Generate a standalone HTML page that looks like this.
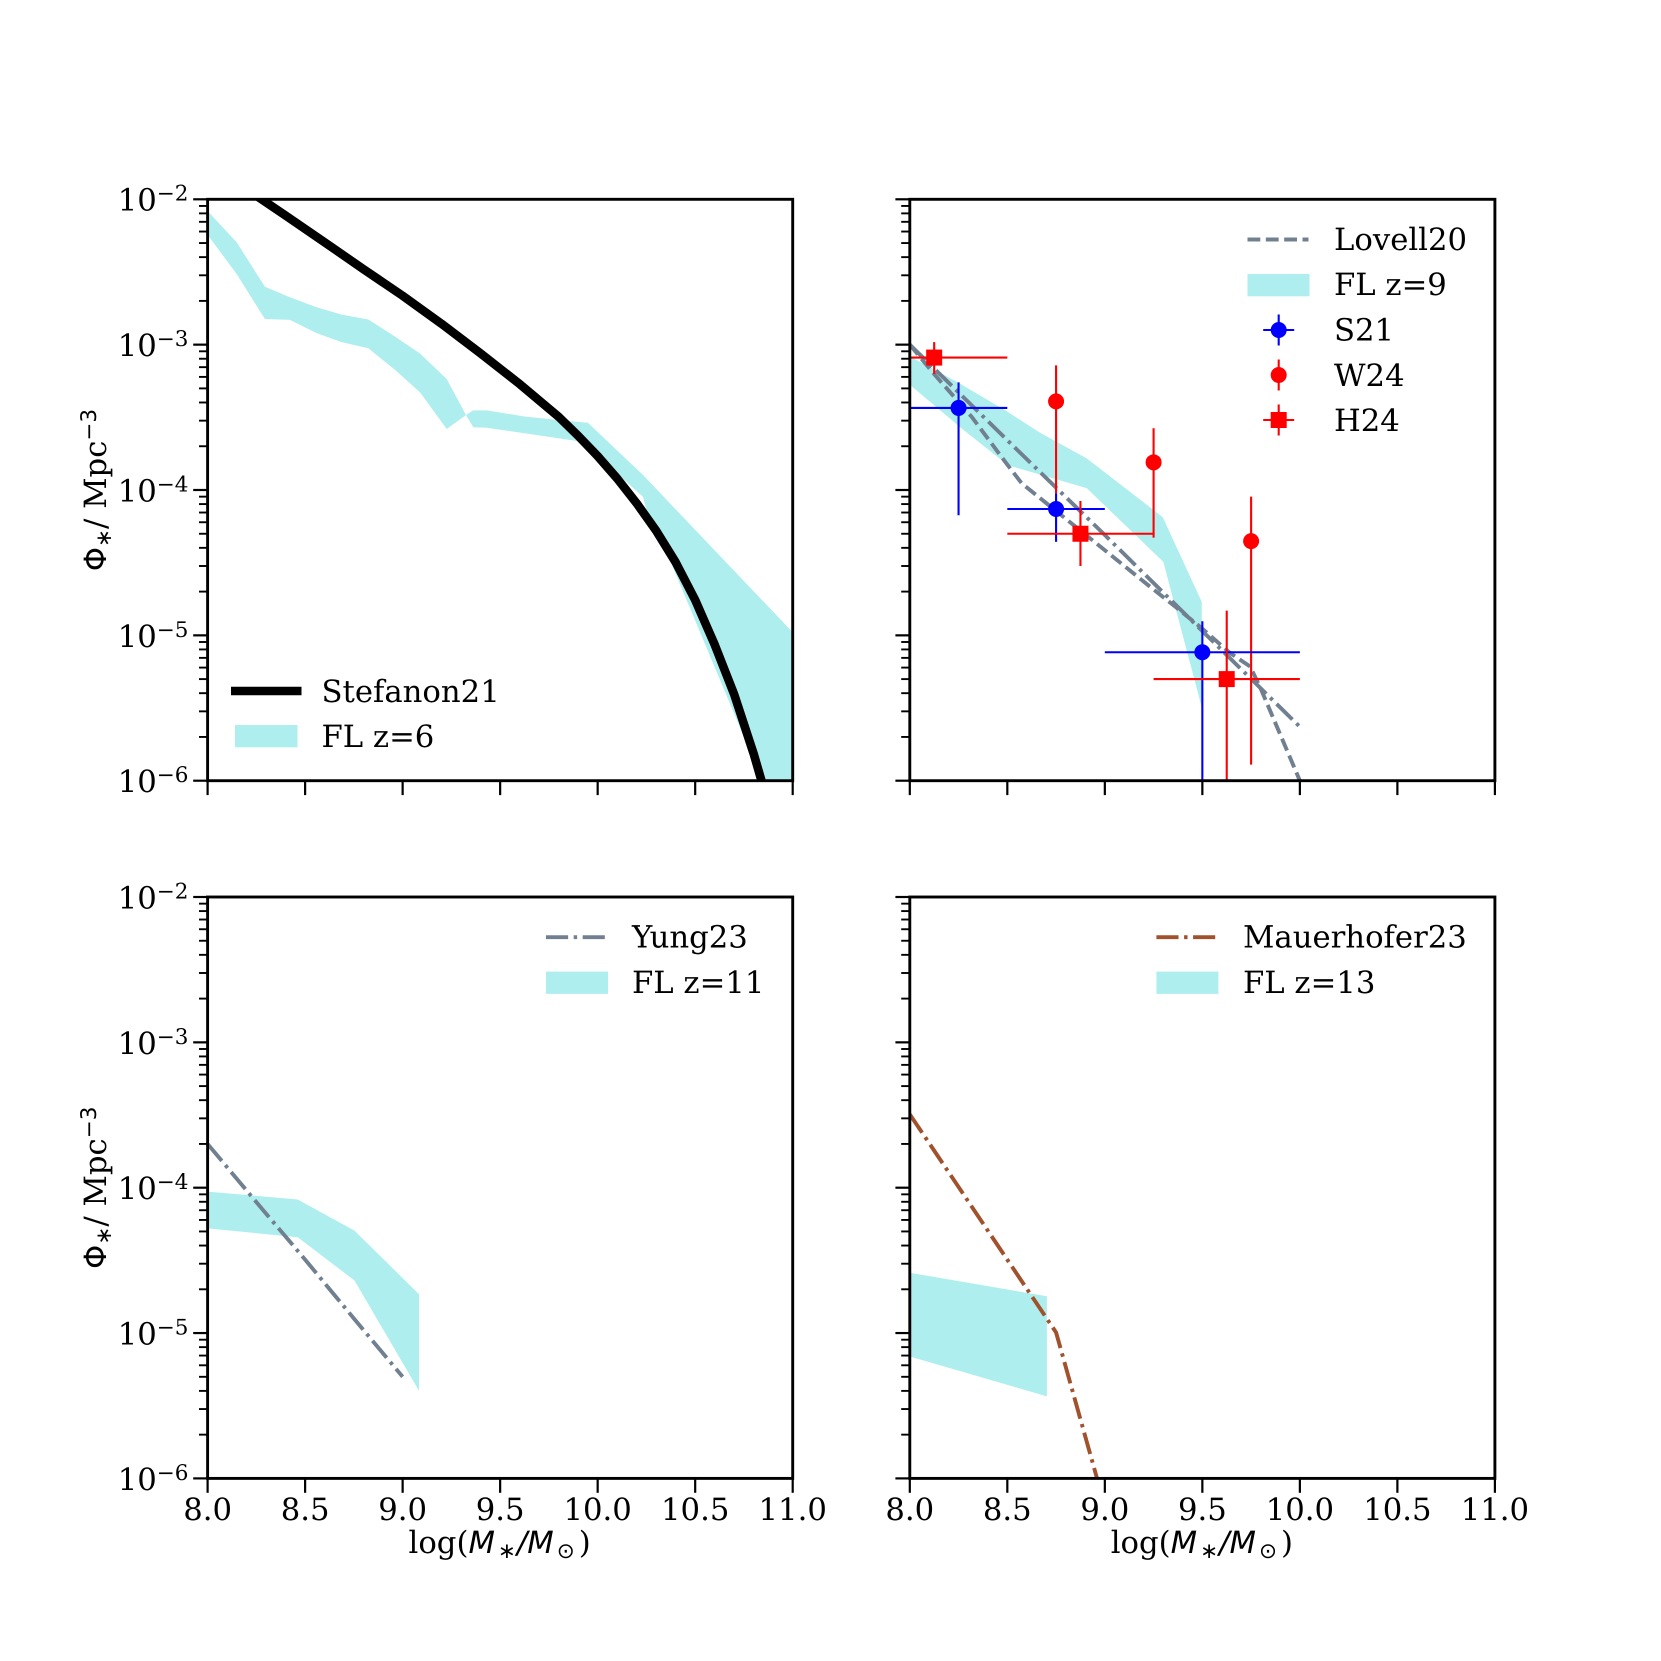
<!DOCTYPE html>
<html lang="en">
<head>
<meta charset="utf-8">
<title>Galaxy stellar mass functions</title>
<style>
html,body{margin:0;padding:0;background:#fff;}
svg{display:block;}
text{font-family:"DejaVu Serif","Liberation Serif",serif;fill:#000;text-rendering:geometricPrecision;}
.ms{font-family:"DejaVu Sans","Liberation Sans",sans-serif;}
</style>
</head>
<body>
<svg id="fig" xmlns="http://www.w3.org/2000/svg" width="1661" height="1661" viewBox="0 0 1661 1661"></svg>
<script>
// ---------- tick data ----------
const xTickValues = [8.0, 8.5, 9.0, 9.5, 10.0, 10.5, 11.0];
const xTickLabels = ['8.0', '8.5', '9.0', '9.5', '10.0', '10.5', '11.0'];
const yTickExponents = [-2, -3, -4, -5, -6];
const yMinorMultipliers = [2, 3, 4, 5, 6, 7, 8, 9];

// ---------- panel 1 (z=6) ----------
const stefanonX = [8.2, 8.4, 8.6, 8.8, 9.0, 9.2, 9.4, 9.6, 9.8, 9.9, 10.0, 10.1, 10.2, 10.3, 10.4, 10.5, 10.6, 10.7, 10.8, 10.84, 10.88];
const stefanonY = [1.175e-2, 7.73e-3, 5.06e-3, 3.3e-3, 2.17e-3, 1.39e-3, 8.7e-4, 5.36e-4, 3.19e-4, 2.36e-4, 1.71e-4, 1.2e-4, 8.1e-5, 5.24e-5, 3.18e-5, 1.75e-5, 8.63e-6, 3.92e-6, 1.53e-6, 1e-6, 6.3e-7];
const flZ6UpperX = [8.0, 8.149, 8.294, 8.422, 8.559, 8.687, 8.824, 8.961, 9.089, 9.226, 9.325, 9.362, 9.431, 9.63, 9.83, 9.95, 10.232, 11.0];
const flZ6UpperY = [8.3e-3, 5.06e-3, 2.5e-3, 2.12e-3, 1.81e-3, 1.61e-3, 1.49e-3, 1.135e-3, 8.7e-4, 5.8e-4, 3.28e-4, 3.53e-4, 3.53e-4, 3.2e-4, 3.0e-4, 2.9e-4, 1.27e-4, 1.05e-5];
const flZ6LowerX = [8.0, 8.149, 8.294, 8.422, 8.559, 8.687, 8.824, 8.961, 9.089, 9.226, 9.325, 9.362, 9.431, 9.63, 9.916, 10.232, 10.25, 10.37, 10.78, 10.83, 11.0];
const flZ6LowerY = [5.7e-3, 3.06e-3, 1.5e-3, 1.48e-3, 1.2e-3, 1.04e-3, 9.44e-4, 6.7e-4, 4.7e-4, 2.63e-4, 3.28e-4, 2.7e-4, 2.68e-4, 2.45e-4, 2.15e-4, 9e-5, 7.3e-5, 3.3e-5, 1.6e-6, 1e-6, 1e-6];

// ---------- panel 2 (z=9) ----------
const flZ9UpperX = [8.0, 8.246, 8.494, 8.667, 8.907, 9.297, 9.497];
const flZ9UpperY = [8.3e-4, 5.5e-4, 3.5e-4, 2.48e-4, 1.65e-4, 6.5e-5, 1.7e-5];
const flZ9LowerX = [8.0, 8.278, 8.504, 8.656, 8.907, 9.3, 9.357, 9.497];
const flZ9LowerY = [5.3e-4, 2.57e-4, 1.48e-4, 1.29e-4, 1.03e-4, 3.2e-5, 1.64e-5, 3.2e-6];
const lovellX = [8.0, 8.12, 8.317, 8.488, 8.574, 8.693, 8.881, 9.103, 9.232, 9.36, 9.497, 9.64, 9.745, 9.795, 10.0];
const lovellY = [1e-3, 6.38e-4, 3.19e-4, 1.57e-4, 1.11e-4, 8.26e-5, 5.18e-5, 2.98e-5, 2.16e-5, 1.58e-5, 1.12e-5, 7.6e-6, 6.1e-6, 4.44e-6, 1e-6];
const dashDotZ9X = [8.0, 8.5, 9.0, 9.5, 10.0];
const dashDotZ9Y = [1e-3, 2.2e-4, 4.9e-5, 1.07e-5, 2.35e-6];

const s21X = [8.25, 8.75, 9.5];
const s21Y = [3.67e-4, 7.4e-5, 7.65e-6];
const s21YLow = [6.7e-5, 4.4e-5, 1e-7];
const s21YHigh = [5.5e-4, 9.5e-5, 1.25e-5];
const s21XLow = [8.0, 8.5, 9.0];
const s21XHigh = [8.5, 9.0, 10.0];

const w24X = [8.75, 9.25, 9.75];
const w24Y = [4.07e-4, 1.55e-4, 4.45e-5];
const w24YLow = [9.5e-5, 4.7e-5, 1.29e-6];
const w24YHigh = [7.2e-4, 2.66e-4, 9e-5];

const h24X = [8.125, 8.875, 9.625];
const h24Y = [8.15e-4, 5.0e-5, 5.0e-6];
const h24YLow = [6.3e-4, 3.0e-5, 1e-7];
const h24YHigh = [1.04e-3, 8.4e-5, 1.48e-5];
const h24XLow = [8.0, 8.5, 9.25];
const h24XHigh = [8.5, 9.25, 10.0];

// ---------- panel 3 (z=11) ----------
const yungX = [8.0, 8.25, 8.5, 8.75, 9.0];
const yungY = [2.0e-4, 7.95e-5, 3.2e-5, 1.26e-5, 5.0e-6];
const flZ11UpperX = [8.0, 8.462, 8.753, 9.084];
const flZ11UpperY = [9.4e-5, 8.3e-5, 5.07e-5, 1.85e-5];
const flZ11LowerX = [8.0, 8.462, 8.753, 9.084];
const flZ11LowerY = [5.25e-5, 4.56e-5, 2.3e-5, 4.0e-6];

// ---------- panel 4 (z=13) ----------
const mauerhoferX = [8.0, 8.75, 8.96, 9.0];
const mauerhoferY = [3.2e-4, 1.01e-5, 1e-6, 6.5e-7];
const flZ13UpperX = [8.0, 8.703];
const flZ13UpperY = [2.6e-5, 1.79e-5];
const flZ13LowerX = [8.0, 8.703];
const flZ13LowerY = [6.9e-6, 3.67e-6];

// ---------- layout and helpers ----------
const SVGNS = 'http://www.w3.org/2000/svg';
const fig = document.getElementById('fig');
const BAND = '#afeeee';
const SLATE = '#708090';
const SIENNA = '#a0522d';
const FS = 30.7;
const FS_SMALL = 21.5;
const LW = 3.9;
const DASH_UNIT = 3.46;
const DASHED = (DASH_UNIT * 3.7) + ' ' + (DASH_UNIT * 1.6);
const DASHDOT = (DASH_UNIT * 6.4) + ' ' + (DASH_UNIT * 1.6) + ' ' + DASH_UNIT + ' ' + (DASH_UNIT * 1.6);

function mk(tag, attrs, parent) {
  const node = document.createElementNS(SVGNS, tag);
  for (const k in attrs) node.setAttribute(k, attrs[k]);
  parent.appendChild(node);
  return node;
}
function makeAxes(left, top, w, h) {
  return {
    left: left, top: top, w: w, h: h,
    X: function (v) { return left + (v - 8) / 3 * w; },
    Y: function (v) { return top + (-2 - Math.log10(v)) / 4 * h; }
  };
}
function pathD(ax, xs, ys) {
  return xs.map(function (x, i) {
    return (i ? 'L' : 'M') + ax.X(x).toFixed(2) + ' ' + ax.Y(ys[i]).toFixed(2);
  }).join(' ');
}
function drawBand(g, ax, ux, uy, lx, ly, name) {
  const rx = lx.slice().reverse();
  const ry = ly.slice().reverse();
  const d = pathD(ax, ux.concat(rx), uy.concat(ry)) + ' Z';
  const el = mk('path', { d: d, fill: BAND, stroke: 'none' }, g);
  
  
}
function drawLine(g, ax, xs, ys, color, width, dash, name) {
  const el = mk('path', { d: pathD(ax, xs, ys), fill: 'none', stroke: color, 'stroke-width': width, 'stroke-linejoin': 'round' }, g);
  if (dash) el.setAttribute('stroke-dasharray', dash);
  
  
}
function drawPoints(g, ax, xs, ys, yLow, yHigh, xLow, xHigh, color, shape, name) {
  xs.forEach(function (x, i) {
    const cx = ax.X(x), cy = ax.Y(ys[i]);
    const el = mk('g', {}, g);
    
    
    mk('line', { x1: cx, x2: cx, y1: ax.Y(yLow[i]), y2: ax.Y(yHigh[i]), stroke: color, 'stroke-width': 2.1 }, el);
    if (xLow) mk('line', { x1: ax.X(xLow[i]), x2: ax.X(xHigh[i]), y1: cy, y2: cy, stroke: color, 'stroke-width': 2.1 }, el);
    if (shape === 'circle') mk('circle', { cx: cx, cy: cy, r: 8, fill: color }, el);
    else mk('rect', { x: cx - 8, y: cy - 8, width: 16, height: 16, fill: color }, el);
  });
}
function drawFrame(svg, ax, showY, showX, name) {
  const g = mk('g', {}, svg);
  
  
  const frame = mk('rect', { x: ax.left, y: ax.top, width: ax.w, height: ax.h, fill: 'none', stroke: '#000', 'stroke-width': 2.9 }, g);
  
  
  const bottom = ax.top + ax.h;
  xTickValues.forEach(function (v, i) {
    const x = ax.X(v);
    const t = mk('line', { x1: x, x2: x, y1: bottom, y2: bottom + 14.4, stroke: '#000', 'stroke-width': 2.2 }, g);
    
    
    if (showX) {
      const lab = mk('text', { x: x, y: bottom + 41.7, 'font-size': FS, 'text-anchor': 'middle' }, g);
      lab.textContent = xTickLabels[i];
      
      
    }
  });
  yTickExponents.forEach(function (e) {
    const y = ax.Y(Math.pow(10, e));
    const t = mk('line', { x1: ax.left - 14.4, x2: ax.left, y1: y, y2: y, stroke: '#000', 'stroke-width': 2.2 }, g);
    
    
    if (e > -6) {
      yMinorMultipliers.forEach(function (m) {
        const ym = ax.Y(m * Math.pow(10, e - 1));
        const mt = mk('line', { x1: ax.left - 8.6, x2: ax.left, y1: ym, y2: ym, stroke: '#000', 'stroke-width': 1.9 }, g);
        
        
      });
    }
    if (showY) {
      const lab = mk('text', { x: 188.5, y: y + 11.4, 'font-size': FS, 'text-anchor': 'end' }, g);
      
      
      lab.appendChild(document.createTextNode('10'));
      const sup = mk('tspan', { 'font-size': FS_SMALL, dy: -10 }, lab);
      sup.textContent = '\u2212' + Math.abs(e);
    }
  });
  if (showY) {
    const cy = ax.top + ax.h / 2;
    const yl = mk('text', { x: 106, y: cy, 'font-size': FS, 'text-anchor': 'middle', transform: 'rotate(-90 106 ' + cy + ')' }, g);
    
    
    mk('tspan', { class: 'ms' }, yl).textContent = '\u03A6';
    mk('tspan', { class: 'ms', 'font-size': FS_SMALL, dy: 5 }, yl).textContent = '\u2217';
    mk('tspan', { dy: -5 }, yl).textContent = '/ Mpc';
    mk('tspan', { class: 'ms', 'font-size': FS_SMALL, dy: -10 }, yl).textContent = '\u22123';
  }
  if (showX) {
    const xl = mk('text', { x: ax.left + ax.w / 2 - 0.5, y: bottom + 74.7, 'font-size': FS, 'text-anchor': 'middle' }, g);
    
    
    mk('tspan', {}, xl).textContent = 'log(';
    mk('tspan', { class: 'ms', 'font-style': 'italic' }, xl).textContent = 'M';
    mk('tspan', { class: 'ms', 'font-size': FS_SMALL, dy: 5, dx: 3 }, xl).textContent = '\u2217';
    mk('tspan', { class: 'ms', 'font-style': 'italic', dy: -5, dx: 1 }, xl).textContent = '/M';
    mk('tspan', { class: 'ms', 'font-size': FS_SMALL, dy: 5, dx: 3 }, xl).textContent = '\u2299';
    mk('tspan', { dy: -5, dx: 4 }, xl).textContent = ')';
  }
}
function legendText(g, x, y, str, name) {
  const t = mk('text', { x: x, y: y, 'font-size': FS }, g);
  t.textContent = str;
  
  
}
function legendPatch(g, x, y, w, name) {
  const r = mk('rect', { x: x, y: y, width: w, height: 22.3, fill: BAND }, g);
  
  
}
function legendStroke(g, x1, x2, y, color, width, dash, name) {
  const l = mk('line', { x1: x1, x2: x2, y1: y, y2: y, stroke: color, 'stroke-width': width }, g);
  if (dash) l.setAttribute('stroke-dasharray', dash);
  
  
}
function legendMarker(g, cx, cy, color, shape, horizontal, name) {
  const m = mk('g', {}, g);
  
  
  mk('line', { x1: cx, x2: cx, y1: cy - 15.5, y2: cy + 15.5, stroke: color, 'stroke-width': 2.1 }, m);
  if (horizontal) mk('line', { x1: cx - 15.5, x2: cx + 15.5, y1: cy, y2: cy, stroke: color, 'stroke-width': 2.1 }, m);
  if (shape === 'circle') mk('circle', { cx: cx, cy: cy, r: 8, fill: color }, m);
  else mk('rect', { x: cx - 8, y: cy - 8, width: 16, height: 16, fill: color }, m);
}
function panelGroup(ax, id, name) {
  const outer = mk('g', {}, fig);
  
  
  const cp = mk('clipPath', { id: id }, outer);
  mk('rect', { x: ax.left, y: ax.top, width: ax.w, height: ax.h }, cp);
  const plot = mk('g', { 'clip-path': 'url(#' + id + ')' }, outer);
  
  
  return { outer: outer, plot: plot };
}
function legendGroup(parent, name) {
  const g = mk('g', {}, parent);
  
  
  return g;
}

// ---------- draw ----------
const L1 = 207.6, L2 = 909.8, T1 = 199.3, T2 = 897, W = 585.1, H = 581.4;

const ax1 = makeAxes(L1, T1, W, H);
const p1 = panelGroup(ax1, 'clip1', 'panel-z6');
drawBand(p1.plot, ax1, flZ6UpperX, flZ6UpperY, flZ6LowerX, flZ6LowerY, 'fl-z6-band');
drawLine(p1.plot, ax1, stefanonX, stefanonY, '#000', 8.6, null, 'stefanon21-line');
drawFrame(p1.outer, ax1, true, false, 'panel-z6');
const lg1 = legendGroup(p1.outer, 'legend-z6');
legendStroke(lg1, 231, 301.5, 691, '#000', 8.6, null, 'legend-stefanon21-line');
legendText(lg1, 321.5, 702.2, 'Stefanon21', 'legend-stefanon21-label');
legendPatch(lg1, 235, 725, 62.5, 'legend-fl-z6-swatch');
legendText(lg1, 321.5, 746.8, 'FL z=6', 'legend-fl-z6-label');

const ax2 = makeAxes(L2, T1, W, H);
const p2 = panelGroup(ax2, 'clip2', 'panel-z9');
drawBand(p2.plot, ax2, flZ9UpperX, flZ9UpperY, flZ9LowerX, flZ9LowerY, 'fl-z9-band');
drawLine(p2.plot, ax2, lovellX, lovellY, SLATE, LW, DASHED, 'lovell20-line');
drawLine(p2.plot, ax2, dashDotZ9X, dashDotZ9Y, SLATE, LW, DASHDOT, 'dash-dot-model-line');
drawPoints(p2.plot, ax2, w24X, w24Y, w24YLow, w24YHigh, null, null, '#ff0000', 'circle', 'w24');
drawPoints(p2.plot, ax2, s21X, s21Y, s21YLow, s21YHigh, s21XLow, s21XHigh, '#0000ff', 'circle', 's21');
drawPoints(p2.plot, ax2, h24X, h24Y, h24YLow, h24YHigh, h24XLow, h24XHigh, '#ff0000', 'square', 'h24');
drawFrame(p2.outer, ax2, false, false, 'panel-z9');
const lg2 = legendGroup(p2.outer, 'legend-z9');
legendStroke(lg2, 1247.5, 1308.5, 239.5, SLATE, LW, DASHED, 'legend-lovell20-line');
legendText(lg2, 1334, 250, 'Lovell20', 'legend-lovell20-label');
legendPatch(lg2, 1247.5, 274, 62, 'legend-fl-z9-swatch');
legendText(lg2, 1334, 295.2, 'FL z=9', 'legend-fl-z9-label');
legendMarker(lg2, 1278.7, 330, '#0000ff', 'circle', true, 'legend-s21-marker');
legendText(lg2, 1334, 340.6, 'S21', 'legend-s21-label');
legendMarker(lg2, 1278.7, 375, '#ff0000', 'circle', false, 'legend-w24-marker');
legendText(lg2, 1334, 385.8, 'W24', 'legend-w24-label');
legendMarker(lg2, 1278.7, 420, '#ff0000', 'square', true, 'legend-h24-marker');
legendText(lg2, 1334, 431, 'H24', 'legend-h24-label');

const ax3 = makeAxes(L1, T2, W, H);
const p3 = panelGroup(ax3, 'clip3', 'panel-z11');
drawBand(p3.plot, ax3, flZ11UpperX, flZ11UpperY, flZ11LowerX, flZ11LowerY, 'fl-z11-band');
drawLine(p3.plot, ax3, yungX, yungY, SLATE, LW, DASHDOT, 'yung23-line');
drawFrame(p3.outer, ax3, true, true, 'panel-z11');
const lg3 = legendGroup(p3.outer, 'legend-z11');
legendStroke(lg3, 546, 608, 937.2, SLATE, LW, DASHDOT, 'legend-yung23-line');
legendText(lg3, 632, 947.6, 'Yung23', 'legend-yung23-label');
legendPatch(lg3, 546, 971.6, 62, 'legend-fl-z11-swatch');
legendText(lg3, 632, 993, 'FL z=11', 'legend-fl-z11-label');

const ax4 = makeAxes(L2, T2, W, H);
const p4 = panelGroup(ax4, 'clip4', 'panel-z13');
drawBand(p4.plot, ax4, flZ13UpperX, flZ13UpperY, flZ13LowerX, flZ13LowerY, 'fl-z13-band');
drawLine(p4.plot, ax4, mauerhoferX, mauerhoferY, SIENNA, LW, DASHDOT, 'mauerhofer23-line');
drawFrame(p4.outer, ax4, false, true, 'panel-z13');
const lg4 = legendGroup(p4.outer, 'legend-z13');
legendStroke(lg4, 1156.4, 1218.4, 937.2, SIENNA, LW, DASHDOT, 'legend-mauerhofer23-line');
legendText(lg4, 1243, 947.6, 'Mauerhofer23', 'legend-mauerhofer23-label');
legendPatch(lg4, 1156.4, 971.6, 62, 'legend-fl-z13-swatch');
legendText(lg4, 1243, 993, 'FL z=13', 'legend-fl-z13-label');
</script>
</body>
</html>
